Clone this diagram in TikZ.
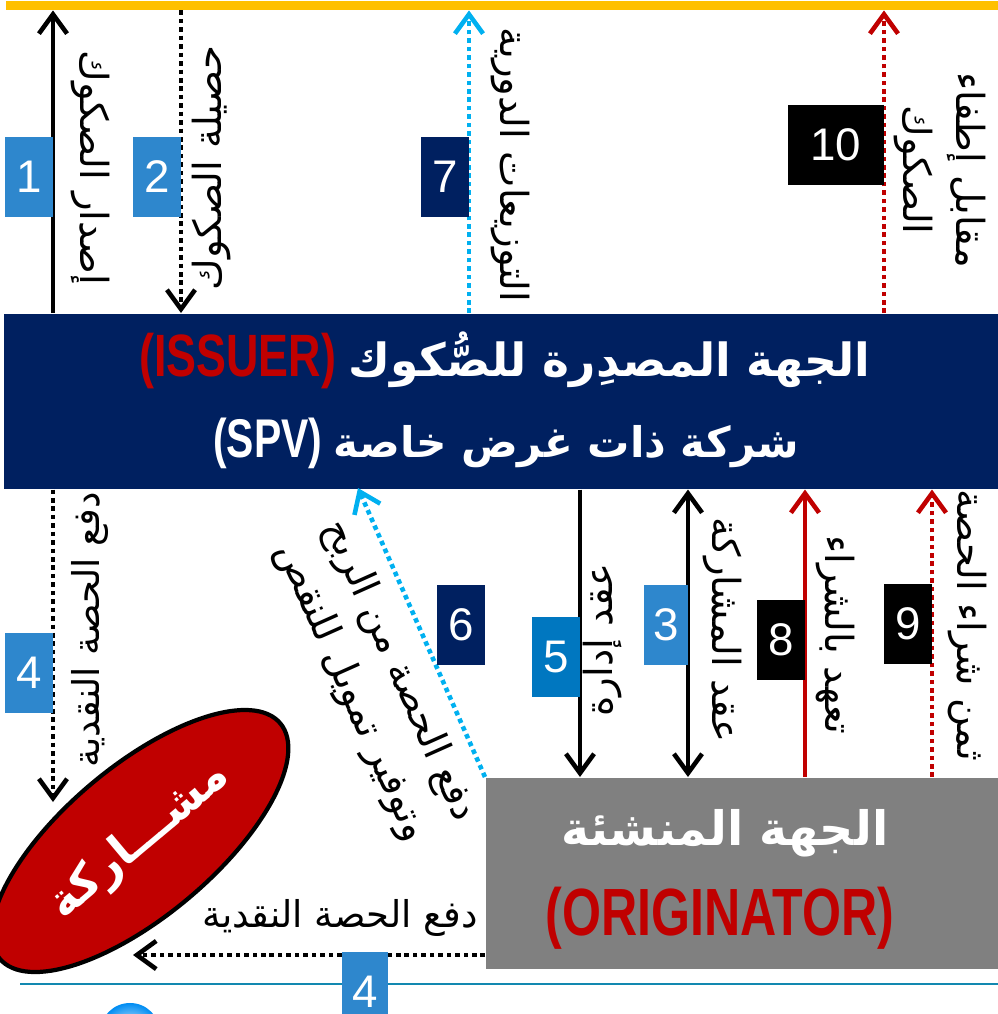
\documentclass[tikz,border=0pt]{standalone}
\usepackage{fontspec}
\setmainfont{Liberation Sans}
\newfontfamily\arabicfont[Script=Arabic]{DejaVu Sans}
\newfontfamily\narrowfont[FakeStretch=0.75]{Liberation Sans}
\TeXXeTstate=1
\usepackage{tikz}
\usetikzlibrary{arrows.meta, positioning, calc, shapes.geometric}
\newcommand{\ar}[1]{{\arabicfont\beginR #1\endR}}

\definecolor{gold}{HTML}{FFC000}
\definecolor{navy}{HTML}{002060}
\definecolor{boxblue}{HTML}{2E87CD}
\definecolor{deepblue}{HTML}{0077C0}
\definecolor{skyblue}{HTML}{00B0F0}
\definecolor{darkred}{HTML}{C00000}
\definecolor{boxgray}{HTML}{808080}
\definecolor{teal}{HTML}{1288B0}

\tikzset{
  flow/.style = {line width=1.3pt, -{Straight Barb[length=5.5pt, width=8pt]}},
  dots/.style = {dash pattern=on 1.3pt off 1.1pt},
  numbox/.style = {fill=#1, text=white, minimum width=0.48cm, minimum height=0.8cm,
    inner sep=0pt, font=\fontsize{13}{13}\selectfont},
  vlabel/.style = {inner sep=0pt, align=center, font=\fontsize{11}{13}\selectfont}
}

\begin{document}
\begin{tikzpicture}[x=0.01cm, y=-0.01cm]
    \useasboundingbox (0, 0) rectangle (998, 1014);

    % Top bar and the two parties
    \node (topbar) [fill=gold, anchor=north west, inner sep=0pt, minimum width=9.93cm,
        minimum height=0.09cm] at (5, 0) {};
    \node (issuer) [fill=navy, anchor=north west, inner sep=0pt, minimum width=9.95cm,
        minimum height=1.75cm] at (3, 313) {};
    \node (orig) [fill=boxgray, anchor=north west, inner sep=0pt, minimum width=5.13cm,
        minimum height=1.91cm] at (485, 777) {};
    \node (spv) [ellipse, fill=darkred, draw=black, line width=1.2pt, minimum width=3.66cm,
        minimum height=1.5cm, rotate=40, text=white, font=\fontsize{13}{13}\selectfont\bfseries]
        at (140, 841) {\ar{مشـــاركة}};

    % Titles
    \node (issuer1) [text=white, font=\fontsize{13}{13}\selectfont\bfseries] at (505, 360)
        {\textcolor{darkred}{\narrowfont\fontsize{17}{17}\selectfont (ISSUER)} \ar{الجهة المصدِرة للصُّكوك}};
    \node (issuer2) [text=white, font=\fontsize{12}{12}\selectfont\bfseries] at (506, 443)
        {{\narrowfont\fontsize{15.5}{15.5}\selectfont (SPV)} \ar{شركة ذات غرض خاصة}};
    \node (orig1) [text=white, font=\fontsize{13.5}{13.5}\selectfont\bfseries] at (725, 833)
        {\ar{الجهة المنشئة}};
    \node (orig2) [text=darkred, font=\narrowfont\fontsize{19}{19}\selectfont\bfseries] at (720, 918)
        {(ORIGINATOR)};

    % Columns of the connectors
    \coordinate (c1) at (53, 0);
    \coordinate (c2) at (181, 0);
    \coordinate (c7) at (469, 0);
    \coordinate (c10) at (884, 0);
    \coordinate (c5) at (580, 0);
    \coordinate (c3) at (688, 0);
    \coordinate (c8) at (805, 0);
    \coordinate (c9) at (932, 0);
    \coordinate (c6) at (358, 488);
    \coordinate (tip4) at (53, 802);
    \coordinate (tip4b) at (133, 955);

    % Connectors above the issuer
    \draw [flow] (issuer.north -| c1) -- (topbar.south -| c1);
    \draw [flow, dots] (topbar.south -| c2) -- (issuer.north -| c2);
    \draw [flow, dots, skyblue] (issuer.north -| c7) -- (topbar.south -| c7);
    \draw [flow, dots, darkred] (issuer.north -| c10) -- (topbar.south -| c10);

    % Connectors below the issuer
    \draw [flow, dots] (issuer.south -| c1) -- (tip4);
    \draw [flow, dots, skyblue] (orig.north west) -- (c6);
    \draw [flow] (issuer.south -| c5) -- (orig.north -| c5);
    \draw [flow, {Straight Barb[length=5.5pt, width=8pt]}-{Straight Barb[length=5.5pt, width=8pt]}]
        (issuer.south -| c3) -- (orig.north -| c3);
    \draw [flow, darkred] (orig.north -| c8) -- (issuer.south -| c8);
    \draw [flow, dots, darkred] (orig.north -| c9) -- (issuer.south -| c9);
    \draw [flow, dots] (orig.west |- tip4b) -- (tip4b);

    % Footer line and logo
    \draw [teal, line width=0.7pt] (20, 984) -- (998, 984);
    \shade [inner color=white, outer color=skyblue!80!blue] (130, 1033) circle (0.3cm);

    % Step numbers
    \node (n1) [numbox=boxblue] at (29, 177) {1};
    \node (n2) [numbox=boxblue] at (157, 177) {2};
    \node (n7) [numbox=navy] at (445, 177) {7};
    \node (n10) [numbox=black, minimum width=0.95cm] at (836, 145) {10};
    \node (n4) [numbox=boxblue] at (29, 673) {4};
    \node (n6) [numbox=navy] at (461, 625) {6};
    \node (n5) [numbox=deepblue] at (556, 657) {5};
    \node (n3) [numbox=boxblue, minimum width=0.43cm] at (666, 625) {3};
    \node (n8) [numbox=black] at (781, 640) {8};
    \node (n9) [numbox=black] at (908, 624) {9};
    \node (n4b) [numbox=boxblue, minimum width=0.45cm] at (365, 992) {4};

    % Step texts
    \node (t1) [vlabel, rotate=-90] at (90, 168) {\ar{إصدار الصكوك}};
    \node (t2) [vlabel, rotate=90] at (212, 168) {\ar{حصيلة الصكوك}};
    \node (t7) [vlabel, rotate=-90] at (510, 165) {\ar{التوزيعات الدورية}};
    \node (t10) [vlabel, rotate=-90, font=\fontsize{11}{15}\selectfont] at (940, 170)
        {\ar{مقابل إطفاء}\\\ar{الصكوك}};
    \node (t4) [vlabel, rotate=90, font=\fontsize{10.5}{13}\selectfont] at (90, 630)
        {\ar{دفع الحصة النقدية}};
    \node (t6) [vlabel, rotate=-66, font=\fontsize{11}{15}\selectfont] at (375, 682)
        {\ar{دفع الحصة من الربح}\\\ar{وتوفير تمويل للنقص}};
    \node (t5) [vlabel, rotate=90] at (603, 640) {\ar{عقد إدارة}};
    \node (t3) [vlabel, rotate=-90] at (722, 630) {\ar{عقد المشاركة}};
    \node (t8) [vlabel, rotate=-90] at (835, 635) {\ar{تعهد بالشراء}};
    \node (t9) [vlabel, rotate=-90] at (967, 625) {\ar{ثمن شراء الحصة}};
    \node (t4b) [vlabel, font=\fontsize{10.5}{13}\selectfont] at (340, 918) {\ar{دفع الحصة النقدية}};

\end{tikzpicture}
\end{document}
